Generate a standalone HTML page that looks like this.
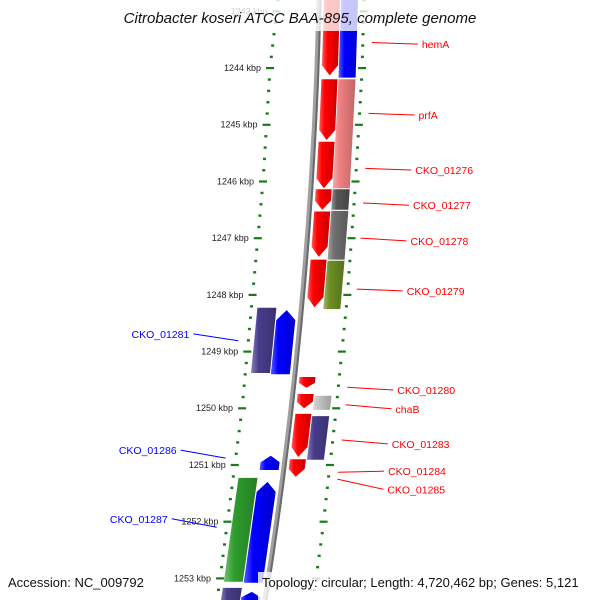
<!DOCTYPE html>
<html><head><meta charset="utf-8"><style>
html,body{margin:0;padding:0;background:#fff;overflow:hidden}
svg{display:block;font-family:"Liberation Sans",sans-serif}
</style></head><body>
<svg id="chart" width="600" height="600" viewBox="0 0 600 600" xmlns="http://www.w3.org/2000/svg">
<defs></defs>
<g id="axes"></g>
<g id="backbone"></g>
<g id="genes"></g>
<g id="labels"></g>
<rect x="112" y="0" width="376" height="31" fill="#fff" opacity="0.78"/>
<text x="300" y="23" text-anchor="middle" font-size="15" font-style="italic" fill="#111">Citrobacter koseri ATCC BAA-895, complete genome</text>
<text x="8" y="587" font-size="13" fill="#111">Accession: NC_009792</text>
<rect x="258" y="572" width="342" height="28" fill="#fff" opacity="0.8"/>
<text x="262" y="587" font-size="13" fill="#111">Topology: circular; Length: 4,720,462 bp; Genes: 5,121</text>
</svg>
<script>
// ---- data ----
const tickStart = 1242.8, tickEnd = 1253.4, tickStep = 0.2;
const geneStart = [1242.8,1244.2,1245.3,1246.14,1246.53,1247.38, 1242.8,1244.2,1246.14,1246.52,1247.4, 1249.45,1249.75,1250.1,1250.9, 1249.78,1250.14, 1248.27,1250.84,1251.3,1253.24, 1248.23,1251.23,1253.17];
const geneEnd   = [1244.13,1245.27,1246.12,1246.5,1247.33,1248.22, 1244.17,1246.12,1246.5,1247.38,1248.25, 1249.64,1250.0,1250.86,1251.21, 1250.03,1250.91, 1249.4,1251.09,1253.08,1253.45, 1249.38,1253.06,1253.45];
const geneLane  = [1,1,1,1,1,1, 2,2,2,2,2, 1,1,1,1, 2,2, -1,-1,-1,-1, -2,-2,-2];
const geneArrow = [1,1,1,1,1,1, 0,0,0,0,0, 1,1,1,1, 0,0, -1,-1,-1,-1, 0,0,0];
const geneColor = ['#ff0000','#ff0000','#ff0000','#ff0000','#ff0000','#ff0000','#0000ff','#f08080','#555555','#707070','#6b8e23','#ff0000','#ff0000','#ff0000','#ff0000','#c4c4c4','#483d8b','#0000ff','#0000ff','#0000ff','#0000ff','#483d8b','#2e9e2e','#483d8b'];
const labelNames = ['hemA','prfA','CKO_01276','CKO_01277','CKO_01278','CKO_01279','CKO_01280','chaB','CKO_01283','CKO_01284','CKO_01285','CKO_01281','CKO_01286','CKO_01287'];
const labelKbp  = [1243.55,1244.8,1245.77,1246.38,1247.0,1247.9,1249.63,1249.94,1250.56,1251.13,1251.25,1248.81,1250.88,1252.1];
const labelTextKbp = [1243.58,1244.83,1245.8,1246.42,1247.05,1247.93,1249.68,1250.01,1250.63,1251.11,1251.43,1248.69,1250.74,1251.95];
const labelSide = [1,1,1,1,1,1,1,1,1,1,1,-1,-1,-1];

// ---- scales ----
const NS='http://www.w3.org/2000/svg';
function yOf(k){return 68+(k-1244)*56.7;}
function bOf(y){return 319-0.0225*y-0.0001125*y*y;}
function interp(pts,y){for(let i=0;i<pts.length-1;i++){if(y<=pts[i+1][0]||i==pts.length-2){const a=pts[i],b=pts[i+1];return a[1]+(b[1]-a[1])*(y-a[0])/(b[0]-a[0]);}}}
const Lp=[[0,278],[68,270],[182,263],[409,242],[579,220],[600,217]];
const Rp=[[0,364],[72,362],[190,355],[300,347],[420,335],[535,322],[600,313]];
function mk(tag,attrs,parent){const e=document.createElementNS(NS,tag);for(const k in attrs)e.setAttribute(k,attrs[k]);parent.appendChild(e);return e;}

const defs=document.querySelector('defs');
function shade(c,f){const n=parseInt(c.slice(1),16);let r=n>>16,g=(n>>8)&255,b=n&255;if(f>0){r+=(255-r)*f;g+=(255-g)*f;b+=(255-b)*f;}else{r*=1+f;g*=1+f;b*=1+f;}return 'rgb('+[r,g,b].map(Math.round).join(',')+')';}
const gradIds={};
geneColor.forEach(c=>{if(gradIds[c])return;const id='g'+c.slice(1);gradIds[c]=id;const lg=mk('linearGradient',{id:id,x1:0,y1:0,x2:1,y2:0},defs);
mk('stop',{offset:0,'stop-color':shade(c,0.35)},lg);mk('stop',{offset:0.3,'stop-color':c},lg);mk('stop',{offset:1,'stop-color':shade(c,-0.2)},lg);});

// axes
const axes=document.getElementById('axes');
for(let i=0;;i++){const k=tickStart+i*tickStep;if(k>tickEnd+1e-6)break;const y=yOf(k);const major=Math.abs(k-Math.round(k))<1e-6;
 [[Lp,-1],[Rp,1]].forEach(([P,s])=>{const x=interp(P,y);const w=major?8:3;
  const t=mk('rect',{x:x-w/2,y:y-1,width:w,height:major?2.2:2.4,fill:'#1a7a1a'},axes);
  
  });
 if(major){const x=interp(Lp,y);const t=mk('text',{x:x-9,y:y+3,'text-anchor':'end','font-size':9,fill:'#222'},axes);t.textContent=Math.round(k)+' kbp';
  
  }
}

// backbone
const bb=document.getElementById('backbone');
let d1='',d2='';for(let y=0;y<=600;y+=10){d1+=(y?'L':'M')+bOf(y).toFixed(1)+' '+y;d2+=(y?'L':'M')+(bOf(y)+1.5).toFixed(1)+' '+y;}
const p1=mk('path',{d:d1,stroke:'#a0a0a0','stroke-width':5,fill:'none'},bb);


const p2=mk('path',{d:d2,stroke:'#6a6a6a','stroke-width':2,fill:'none'},bb);



// genes
const lanes={'1':[5,21],'2':[22,39],'-1':[-24,-5],'-2':[-44,-25]};
const gg=document.getElementById('genes');
for(let i=0;i<geneStart.length;i++){
 const y0=yOf(geneStart[i]),y1=Math.min(yOf(geneEnd[i]),605);
 const [a,b]=lanes[geneLane[i]];
 const xl=y=>bOf(y)+a, xr=y=>bOf(y)+b;
 const ah=Math.min(10,(y1-y0)*0.45);
 let pts;
 if(geneArrow[i]===1){const yt=y1-ah;pts=[[xl(y0),y0],[xr(y0),y0],[xr(yt),yt],[(xl(y1)+xr(y1))/2,y1],[xl(yt),yt]];}
 else if(geneArrow[i]===-1){const yt=y0+ah;pts=[[(xl(y0)+xr(y0))/2,y0],[xr(yt),yt],[xr(y1),y1],[xl(y1),y1],[xl(yt),yt]];}
 else pts=[[xl(y0),y0],[xr(y0),y0],[xr(y1),y1],[xl(y1),y1]];
 const p=mk('polygon',{points:pts.map(q=>q[0].toFixed(1)+','+q[1].toFixed(1)).join(' '),fill:'url(#'+gradIds[geneColor[i]]+')'},gg);
 
 
}

// labels
const lg2=document.getElementById('labels');
for(let i=0;i<labelNames.length;i++){
 const yg=yOf(labelKbp[i]),yt=yOf(labelTextKbp[i]);const s=labelSide[i];const col=s>0?'#ff0000':'#0000ff';
 let x1,x2,tx;
 if(s>0){x1=interp(Rp,yg)+9;x2=x1+46;tx=x2+4;}else{x2=interp(Lp,yg)-10;x1=x2-45;tx=x1-4;}
 const y1=s>0?yg:yt, y2=s>0?yt:yg;
 const ln=mk('line',{x1:x1,y1:y1,x2:x2,y2:y2,stroke:col,'stroke-width':1},lg2);
 
 
 const t=mk('text',{x:tx,y:(s>0?y2:y1)+4,'text-anchor':s>0?'start':'end','font-size':10.5,fill:col},lg2);
 t.textContent=labelNames[i];
 
 
}
</script>
</body></html>
